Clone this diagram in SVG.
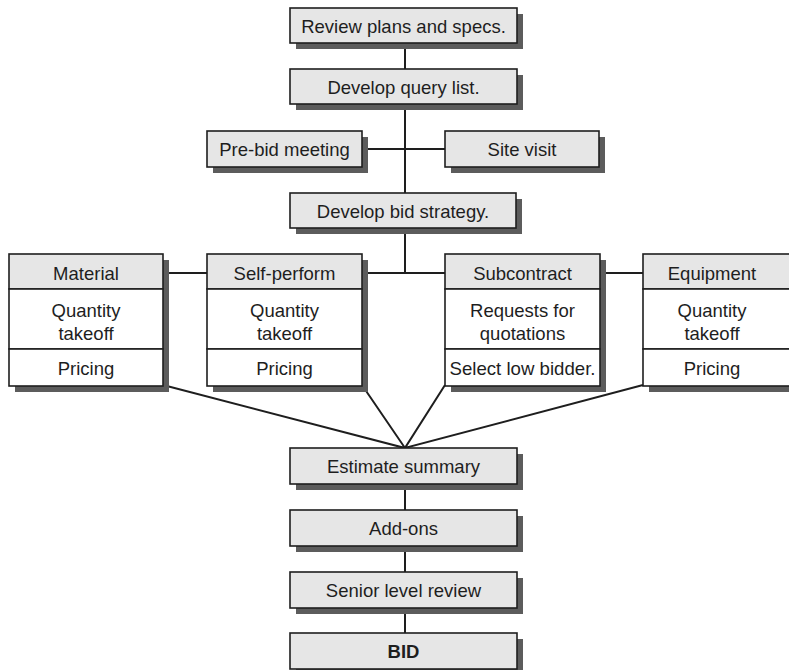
<svg xmlns="http://www.w3.org/2000/svg" width="789" height="670" viewBox="0 0 789 670">
<style>
.sh{fill:#5c5c5c}
.bx{fill:#e6e6e6;stroke:#1e1e1e;stroke-width:1.6}
.wb{fill:#ffffff;stroke:#1e1e1e;stroke-width:1.6}
.t{font-family:"Liberation Sans",Arial,sans-serif;font-size:18.5px;fill:#1e1e1e;text-anchor:middle}
.b{font-weight:bold}
.ln{stroke:#1e1e1e;stroke-width:2;fill:none}
</style>
<rect width="789" height="670" fill="#ffffff"/>
<g id="connectors">
<line class="ln" x1="405" y1="43" x2="405" y2="69"/>
<line class="ln" x1="405" y1="104" x2="405" y2="193"/>
<line class="ln" x1="362" y1="149" x2="445" y2="149"/>
<line class="ln" x1="405" y1="228" x2="405" y2="273"/>
<line class="ln" x1="163" y1="273" x2="207" y2="273"/>
<line class="ln" x1="362" y1="273" x2="445" y2="273"/>
<line class="ln" x1="600" y1="273" x2="643" y2="273"/>
<polyline class="ln" points="163,385 405,448 362,385"/>
<polyline class="ln" points="445,385 405,448 643,385"/>
<line class="ln" x1="405" y1="484" x2="405" y2="510"/>
<line class="ln" x1="405" y1="546" x2="405" y2="572"/>
<line class="ln" x1="405" y1="608" x2="405" y2="633"/>
</g>
<g id="review">
<rect class="sh" x="296" y="14" width="227" height="35"/>
<rect class="bx" x="290" y="8" width="227" height="35"/>
<text class="t" x="403.5" y="33">Review plans and specs.</text>
</g>
<g id="query">
<rect class="sh" x="296" y="75" width="227" height="35"/>
<rect class="bx" x="290" y="69" width="227" height="35"/>
<text class="t" x="403.5" y="94">Develop query list.</text>
</g>
<g id="prebid">
<rect class="sh" x="213" y="137" width="155" height="36"/>
<rect class="bx" x="207" y="131" width="155" height="36"/>
<text class="t" x="284.5" y="156">Pre-bid meeting</text>
</g>
<g id="site">
<rect class="sh" x="451" y="137" width="154" height="36"/>
<rect class="bx" x="445" y="131" width="154" height="36"/>
<text class="t" x="522" y="156">Site visit</text>
</g>
<g id="strategy">
<rect class="sh" x="296" y="199" width="226" height="35"/>
<rect class="bx" x="290" y="193" width="226" height="35"/>
<text class="t" x="403" y="218">Develop bid strategy.</text>
</g>
<g id="material">
<rect class="sh" x="15" y="260" width="154" height="132"/>
<rect class="bx" x="9" y="254" width="154" height="35"/>
<rect class="wb" x="9" y="289" width="154" height="60"/>
<rect class="wb" x="9" y="349" width="154" height="37"/>
<text class="t" x="86" y="280">Material</text>
<text class="t" x="86" y="317">Quantity</text>
<text class="t" x="86" y="340">takeoff</text>
<text class="t" x="86" y="375">Pricing</text>
</g>
<g id="selfperform">
<rect class="sh" x="213" y="260" width="155" height="132"/>
<rect class="bx" x="207" y="254" width="155" height="35"/>
<rect class="wb" x="207" y="289" width="155" height="60"/>
<rect class="wb" x="207" y="349" width="155" height="37"/>
<text class="t" x="284.5" y="280">Self-perform</text>
<text class="t" x="284.5" y="317">Quantity</text>
<text class="t" x="284.5" y="340">takeoff</text>
<text class="t" x="284.5" y="375">Pricing</text>
</g>
<g id="subcontract">
<rect class="sh" x="451" y="260" width="155" height="132"/>
<rect class="bx" x="445" y="254" width="155" height="35"/>
<rect class="wb" x="445" y="289" width="155" height="60"/>
<rect class="wb" x="445" y="349" width="155" height="37"/>
<text class="t" x="522.5" y="280">Subcontract</text>
<text class="t" x="522.5" y="317">Requests for</text>
<text class="t" x="522.5" y="340">quotations</text>
<text class="t" x="522.5" y="375" textLength="146" lengthAdjust="spacingAndGlyphs">Select low bidder.</text>
</g>
<g id="equipment">
<rect class="sh" x="649" y="260" width="155" height="132"/>
<rect class="bx" x="643" y="254" width="155" height="35"/>
<rect class="wb" x="643" y="289" width="155" height="60"/>
<rect class="wb" x="643" y="349" width="155" height="37"/>
<text class="t" x="712" y="280">Equipment</text>
<text class="t" x="712" y="317">Quantity</text>
<text class="t" x="712" y="340">takeoff</text>
<text class="t" x="712" y="375">Pricing</text>
</g>
<g id="summary">
<rect class="sh" x="296" y="454" width="227" height="36"/>
<rect class="bx" x="290" y="448" width="227" height="36"/>
<text class="t" x="403.5" y="473">Estimate summary</text>
</g>
<g id="addons">
<rect class="sh" x="296" y="516" width="227" height="36"/>
<rect class="bx" x="290" y="510" width="227" height="36"/>
<text class="t" x="403.5" y="535">Add-ons</text>
</g>
<g id="senior">
<rect class="sh" x="296" y="578" width="227" height="36"/>
<rect class="bx" x="290" y="572" width="227" height="36"/>
<text class="t" x="403.5" y="597">Senior level review</text>
</g>
<g id="bid">
<rect class="sh" x="296" y="639" width="227" height="36"/>
<rect class="bx" x="290" y="633" width="227" height="36"/>
<text class="t b" x="403.5" y="658">BID</text>
</g>
</svg>
